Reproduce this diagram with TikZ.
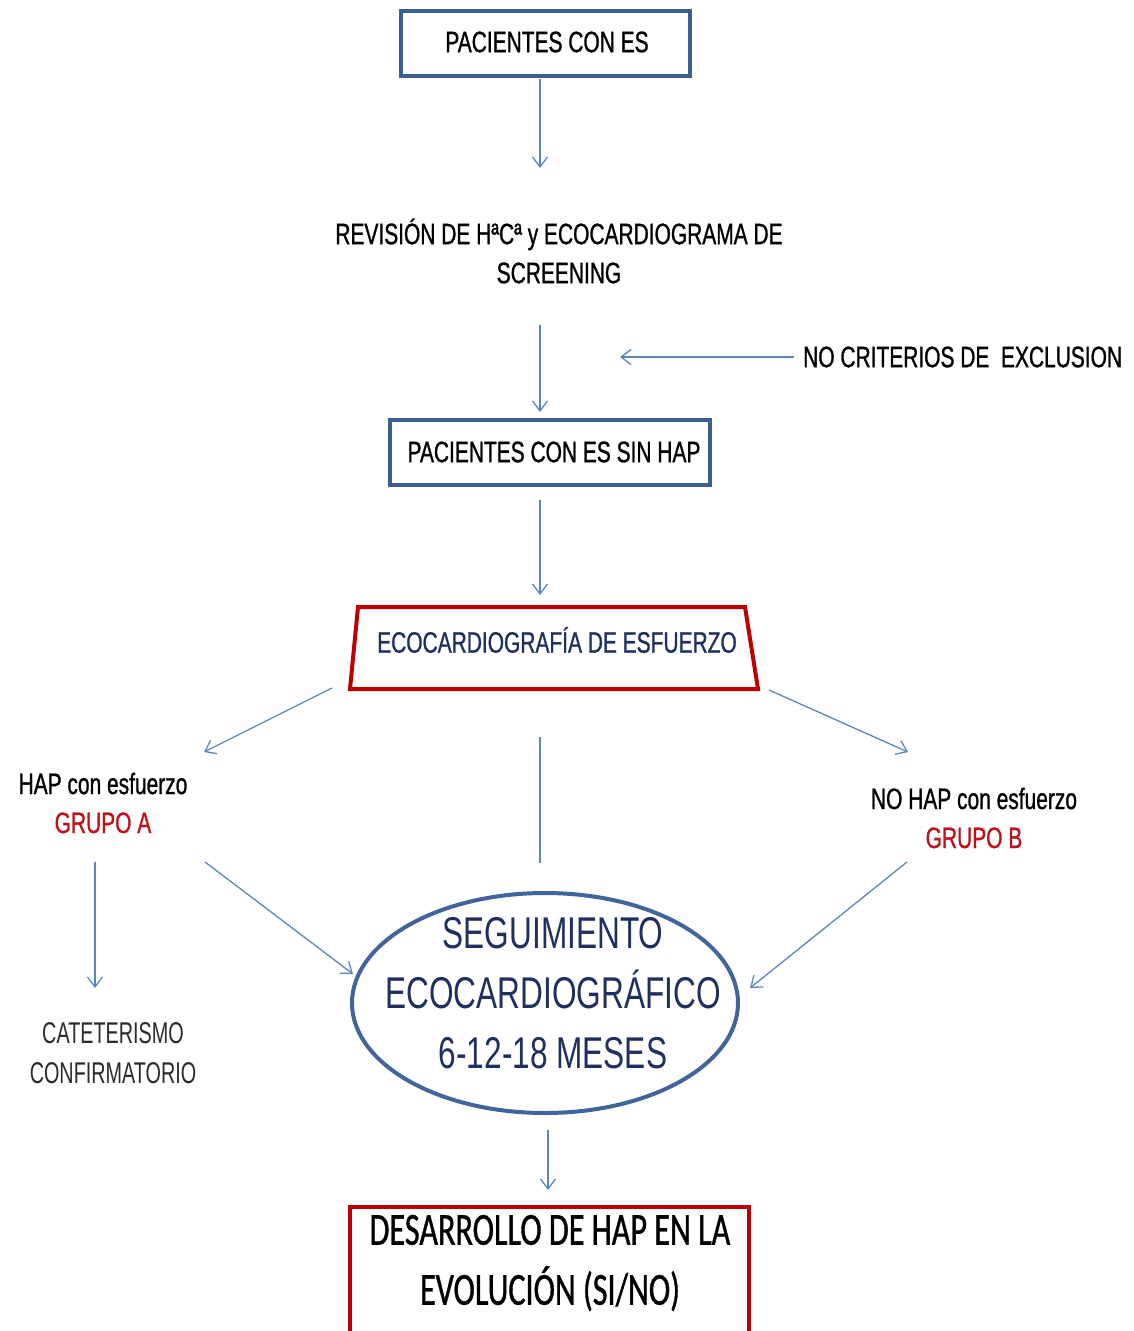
\documentclass[tikz,border=0pt]{standalone}
\usepackage{fontspec}
\setmainfont[FakeStretch=0.71,FakeBold=0.9]{Liberation Sans}
\newfontfamily\ellf[FakeStretch=0.71]{Liberation Sans}
\newfontfamily\calibf[FakeStretch=0.70,FakeBold=0.8]{Carlito}
\newfontfamily\thinf[FakeStretch=0.66]{Liberation Sans}
\usetikzlibrary{arrows.meta}
\definecolor{boxblue}{HTML}{3C5F91}
\definecolor{ellblue}{HTML}{41659A}
\definecolor{arrowc}{HTML}{5A86C0}
\definecolor{redc}{HTML}{C00000}
\definecolor{navy}{HTML}{1F2F5F}
\definecolor{grpred}{HTML}{C0101A}
\definecolor{thingray}{HTML}{2A2A2A}
\tikzset{
  arr/.style={draw=arrowc, line width=1.3pt, -{Straight Barb[length=10pt,width=15pt,line width=1.3pt]}},
  plainline/.style={draw=arrowc, line width=1.3pt},
  bluebox/.style={draw=boxblue, line width=4pt, fill=white},
  redbox/.style={draw=redc, line width=4pt, fill=white},
  txt/.style={inner sep=0pt, align=center, text=black},
  mainfont/.style={font=\fontsize{29.5}{39}\selectfont}
}
\begin{document}
\begin{tikzpicture}[x=1pt,y=-1pt]
\useasboundingbox (0,0) rectangle (1134,1331);
\fill[white] (0,0) rectangle (1134,1331);

% boxes
\draw[bluebox] (401,11) rectangle (690,76);
\node[txt, mainfont] (p1) at (547,42) {PACIENTES CON ES};

\node[txt, mainfont] (rev) at (559,251) {REVISIÓN DE HªCª y ECOCARDIOGRAMA DE\\SCREENING};

\node[txt, mainfont, anchor=west] (nocrit) at (803,357) {NO CRITERIOS DE\ \ EXCLUSION};

\draw[bluebox] (390,420) rectangle (710,485);
\node[txt, mainfont] (p2) at (554,452) {PACIENTES CON ES SIN HAP};

\draw[redbox] (358,607) -- (745,607) -- (758,689) -- (350,689) -- cycle;
\node[txt, mainfont, text=navy] (eco) at (557,640) {ECOCARDIOGRAFÍA DE ESFUERZO};

\node[txt, mainfont] (ga) at (103,803) {HAP con esfuerzo\\\textcolor{grpred}{GRUPO A}};
\node[txt, mainfont] (gb) at (974,818) {NO HAP con esfuerzo\\\textcolor{grpred}{GRUPO B}};

\node[txt, text=thingray, font=\thinf\fontsize{30}{40}\selectfont] (cat) at (113,1053) {CATETERISMO\\CONFIRMATORIO};

\draw[draw=ellblue, line width=4pt, fill=white] (545,1003) ellipse [x radius=193, y radius=110];
\node[txt, text=navy, font=\ellf\fontsize{44.5}{60}\selectfont] (seg) at (553,993) {SEGUIMIENTO\\ECOCARDIOGRÁFICO\\6-12-18 MESES};

\draw[redbox] (350,1207) rectangle (749,1350);
\node[txt, font=\calibf\fontsize{46}{60}\selectfont] (des) at (550,1263) {DESARROLLO DE HAP EN LA\\EVOLUCIÓN (SI/NO)};

% connector end points
\coordinate (c1a) at (540,79);
\coordinate (c1b) at (540,168);
\coordinate (c2a) at (540,325);
\coordinate (c2b) at (540,412);
\coordinate (c3a) at (794,357);
\coordinate (c3b) at (620,357);
\coordinate (c4a) at (540,500);
\coordinate (c4b) at (540,595);
\coordinate (c5a) at (332,688);
\coordinate (c5b) at (204,752);
\coordinate (c6a) at (769,690);
\coordinate (c6b) at (908,752);
\coordinate (c7a) at (540,737);
\coordinate (c7b) at (540,863);
\coordinate (c8a) at (95,862);
\coordinate (c8b) at (95,988);
\coordinate (c9a) at (205,862);
\coordinate (c9b) at (353,974);
\coordinate (c10a) at (907,862);
\coordinate (c10b) at (750,988);
\coordinate (c11a) at (548,1130);
\coordinate (c11b) at (548,1190);

\draw[arr] (c1a) -- (c1b);
\draw[arr] (c2a) -- (c2b);
\draw[arr] (c3a) -- (c3b);
\draw[arr] (c4a) -- (c4b);
\draw[arr] (c5a) -- (c5b);
\draw[arr] (c6a) -- (c6b);
\draw[plainline] (c7a) -- (c7b);
\draw[arr] (c8a) -- (c8b);
\draw[arr] (c9a) -- (c9b);
\draw[arr] (c10a) -- (c10b);
\draw[arr] (c11a) -- (c11b);
\end{tikzpicture}
\end{document}
